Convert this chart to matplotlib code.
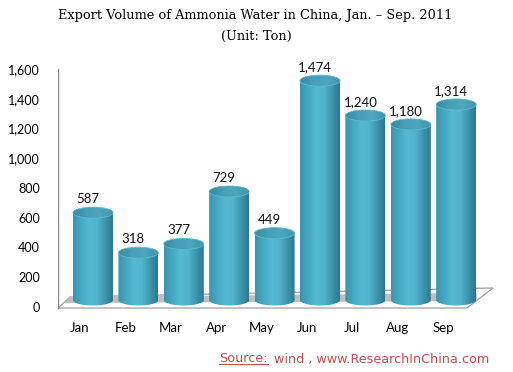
import matplotlib.pyplot as plt
import numpy as np
from matplotlib.colors import LinearSegmentedColormap
from matplotlib.patches import Polygon, Ellipse

#====================================================================================================

months  = ["Jan", "Feb", "Mar", "Apr", "May", "Jun", "Jul", "Aug", "Sep"]
volumes = [587, 318, 377, 729, 449, 1474, 1240, 1180, 1314]
yticks  = [0, 200, 400, 600, 800, 1000, 1200, 1400, 1600]

title    = "Export Volume of Ammonia Water in China, Jan. \u2013 Sep. 2011"
subtitle = "(Unit: Ton)"

#====================================================================================================

def main():

    fig = plt.figure(figsize = (5.13, 3.72), dpi = 100)
    fig.patch.set_facecolor("white")

    # axes placed in pixel terms: 58..500 wide, 55..320 from top
    ax = fig.add_axes([58 / 513, (372 - 320) / 372, 442 / 513, 265 / 372])
    ax.set_xlim(-0.771, 8.965)
    ax.set_ylim(-134.4, 1646.5)
    ax.axis("off")

    pxX = 45.4       # pixels per bar step
    pxY = 0.1488     # pixels per ton
    barW = 40 / pxX
    ellH = 11 / pxY

    # floor slab
    floor = Polygon([(-0.771, -53.8), (8.238, -53.8), (8.81, 80.6), (-0.507, 20.2)],
                    closed = True, facecolor = "white", edgecolor = "#A0A0A0", lw = 0.9, zorder = 1)
    ax.add_patch(floor)
    shadow = Polygon([(-0.62, -20.2), (8.45, -6.7), (8.45, 47), (-0.52, 20.2)],
                     closed = True, facecolor = "#BEBEBE", edgecolor = "none", zorder = 1.1)
    ax.add_patch(shadow)

    # vertical axis line
    ax.plot([-0.771, -0.771], [-53.8, 1552], color = "#8C8C8C", lw = 1.0, zorder = 1.2)

    bodyCmap = LinearSegmentedColormap.from_list("cyl", ["#3A93AC", "#46A8C2", "#56B9D3", "#52B4CE", "#3E97B0", "#2B778D"])
    topCmap  = LinearSegmentedColormap.from_list("top", ["#3889A0", "#479FB8", "#4DA7BF", "#3F95AD"])
    grad = np.linspace(0, 1, 256).reshape(1, -1)

    for i, v in enumerate(volumes):
        x0, x1 = i - barW / 2, i + barW / 2
        t = np.linspace(np.pi, 2 * np.pi, 40)
        bx = i + barW / 2 * np.cos(t)
        by = ellH / 2 * np.sin(t)
        pts = [(x0, v)] + list(zip(bx, by)) + [(x1, v)]
        body = Polygon(pts, closed = True, facecolor = "none", edgecolor = "none")
        ax.add_patch(body)
        im = ax.imshow(grad, cmap = bodyCmap, aspect = "auto", extent = (x0, x1, -ellH, v), zorder = 2 + i * 0.01)
        im.set_clip_path(body)

        top = Ellipse((i, v), barW, ellH, facecolor = "none", edgecolor = "#5DB7CF", lw = 0.6, zorder = 2.005 + i * 0.01)
        ax.add_patch(top)
        imt = ax.imshow(grad, cmap = topCmap, aspect = "auto", extent = (x0, x1, v - ellH / 2, v + ellH / 2), zorder = 2.004 + i * 0.01)
        imt.set_clip_path(top)

        ax.annotate(f"{v:,}", (i, v + ellH / 2), xytext = (-5, 2), textcoords = "offset pixels",
                    ha = "center", va = "bottom", fontsize = 9.5, family = "Lato", color = "#111111", zorder = 5)

    # y tick labels (front plane, shifted down)
    for yv in yticks:
        ax.annotate(f"{yv:,}", (-0.771, yv), xytext = (-18, -8), textcoords = "offset pixels",
                    ha = "right", va = "center", fontsize = 9, family = "Lato", color = "black")

    # x tick labels
    for i, m in enumerate(months):
        ax.annotate(m, (i, 0), xytext = (-13, -28), textcoords = "offset pixels",
                    ha = "center", va = "center", fontsize = 9.5, family = "Lato", color = "black")

    fig.text(255 / 513, 1 - 15 / 372, title, ha = "center", va = "center", fontsize = 9.3, family = "DejaVu Serif")
    fig.text(256 / 513, 1 - 36 / 372, subtitle, ha = "center", va = "center", fontsize = 9.3, family = "DejaVu Serif")

    # source line, "Source:" underlined
    srcColor = "#C0504D"
    s1 = fig.text(219 / 513, 1 - 359 / 372, "Source:", ha = "left", va = "center", fontsize = 9.2, family = "DejaVu Sans", color = srcColor)
    fig.canvas.draw()
    bb = s1.get_window_extent()
    fig.text(bb.x1 / 513 + 0.012, 1 - 359 / 372, "wind , www.ResearchInChina.com", ha = "left", va = "center",
             fontsize = 9.2, family = "DejaVu Sans", color = srcColor)
    fig.add_artist(plt.Line2D([bb.x0 / 513, bb.x1 / 513], [(bb.y0 + 1.5) / 372, (bb.y0 + 1.5) / 372], color = srcColor, lw = 0.8))

    plt.savefig("out.png", dpi = 100)

#====================================================================================================

if __name__ == "__main__":

    main()
